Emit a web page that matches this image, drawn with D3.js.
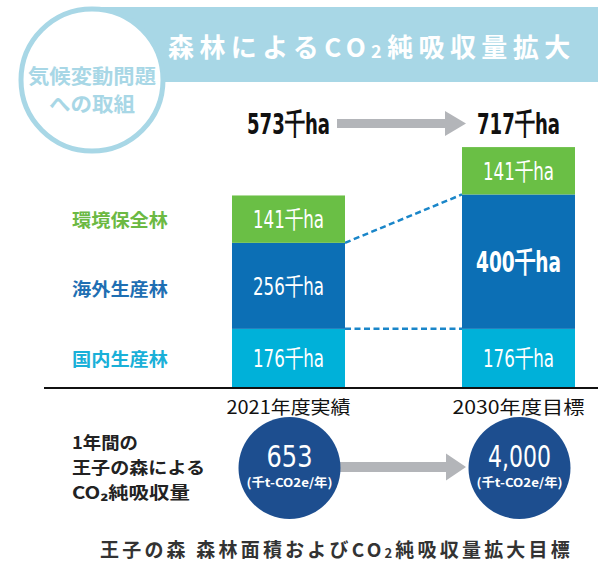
<!DOCTYPE html>
<html><head><meta charset="utf-8">
<script src="https://cdn.jsdelivr.net/npm/d3@7"></script>
<style>body{margin:0;background:#fff}svg{display:block}</style>
</head><body>
<svg id="c" width="598" height="562"></svg>
<script>
const categories = ["2021年度実績", "2030年度目標"];
const seriesNames = ["国内生産林", "海外生産林", "環境保全林"];
const domestic = [176, 176];
const overseas = [256, 400];
const environmental = [141, 141];
const totals = [573, 717];
const co2Values = ["653", "4,000"];
const co2Unit = "(千t-CO2e/年)";
const unit = "千ha";

const colors = {"国内生産林": "#00b1d9", "海外生産林": "#0c6fb5", "環境保全林": "#6abf45"};
const labelColors = {"国内生産林": "#1ab0d8", "海外生産林": "#1f6fb3", "環境保全林": "#6cb943"};
const JP = "'Noto Sans CJK JP', 'Noto Sans', sans-serif";
const COND = "'Liberation Sans Narrow', 'DejaVu Sans Condensed', 'Roboto', sans-serif";

const svg = d3.select("#c");

// ---- header
const band = "#a8d7e6";
svg.append("rect").attr("x", 92).attr("y", 7).attr("width", 506).attr("height", 75).attr("fill", band);
svg.append("circle").attr("cx", 92).attr("cy", 80).attr("r", 71).attr("fill", "#fff")
  .attr("stroke", band).attr("stroke-width", 5);
svg.append("text").attr("x", 92).attr("y", 75).attr("text-anchor", "middle").attr("dominant-baseline", "central")
  .attr("font-family", JP).attr("font-weight", 700).attr("font-size", 20).attr("fill", band)
  .attr("textLength", 128).attr("lengthAdjust", "spacingAndGlyphs").text("気候変動問題");
svg.append("text").attr("x", 92).attr("y", 103).attr("text-anchor", "middle").attr("dominant-baseline", "central")
  .attr("font-family", JP).attr("font-weight", 700).attr("font-size", 20).attr("fill", band)
  .attr("textLength", 86).attr("lengthAdjust", "spacingAndGlyphs").text("への取組");

const title = svg.append("text").attr("x", 168).attr("y", 45).attr("dominant-baseline", "central")
  .attr("font-family", JP).attr("font-weight", 700).attr("font-size", 26).attr("fill", "#fff")
  .attr("letter-spacing", 5.4);
title.append("tspan").text("森林によるCO");
title.append("tspan").attr("font-size", 18).attr("dy", 5).text("2");
title.append("tspan").attr("dy", -5).text("純吸収量拡大");

// ---- scales
const x = d3.scaleBand().domain(categories).range([232, 575]).paddingInner(0.5087).paddingOuter(0);
const y = d3.scaleLinear().domain([0, 717]).range([388, 388 - 717 * 0.336]);

const rows = categories.map((c, i) => ({cat: c, "国内生産林": domestic[i], "海外生産林": overseas[i], "環境保全林": environmental[i]}));
const stack = d3.stack().keys(seriesNames)(rows);

// dashed connectors
const dash = "#1a86c9";
const conn = [
  [x(categories[0]) + x.bandwidth(), y(stack[0][0][1]), x(categories[1]), y(stack[0][1][1])],
  [x(categories[0]) + x.bandwidth(), y(stack[1][0][1]), x(categories[1]), y(stack[1][1][1])]
];
svg.selectAll("line.conn").data(conn).join("line").attr("class", "conn")
  .attr("x1", d => d[0]).attr("y1", d => d[1]).attr("x2", d => d[2]).attr("y2", d => d[3])
  .attr("stroke", dash).attr("stroke-width", 2.5).attr("stroke-dasharray", "6,3.5");

// bars
stack.forEach(s => {
  svg.selectAll(null).data(s).join("rect")
    .attr("x", d => x(d.data.cat)).attr("width", x.bandwidth())
    .attr("y", d => y(d[1])).attr("height", d => y(d[0]) - y(d[1]))
    .attr("fill", colors[s.key]);
  svg.selectAll(null).data(s).join("text")
    .attr("x", d => x(d.data.cat) + x.bandwidth() / 2)
    .attr("y", d => (y(d[0]) + y(d[1])) / 2 + 1)
    .attr("text-anchor", "middle").attr("dominant-baseline", "central")
    .attr("font-family", COND).attr("fill", "#fff")
    .attr("font-weight", d => (d[1] - d[0]) >= 400 ? 700 : 400)
    .attr("font-size", d => (d[1] - d[0]) >= 400 ? 28 : 24)
    .attr("textLength", d => (d[1] - d[0]) >= 400 ? 85 : 71)
    .attr("lengthAdjust", "spacingAndGlyphs")
    .text(d => (d[1] - d[0]) + unit);
});

// baseline
svg.append("line").attr("x1", 44).attr("x2", 598).attr("y1", 388).attr("y2", 388)
  .attr("stroke", "#111").attr("stroke-width", 2);

// series labels on left
const labelY = {"環境保全林": 219, "海外生産林": 288, "国内生産林": 358};
svg.selectAll("text.cat").data(seriesNames).join("text").attr("class", "cat")
  .attr("x", 120).attr("y", d => labelY[d]).attr("text-anchor", "middle").attr("dominant-baseline", "central")
  .attr("font-family", JP).attr("font-weight", 700).attr("font-size", 18)
  .attr("fill", d => labelColors[d]).attr("textLength", 96).attr("lengthAdjust", "spacingAndGlyphs")
  .text(d => d);

// arrow helper
function arrow(x0, x1, cy, shaftH, headH, headL) {
  const p = d3.path();
  p.moveTo(x0, cy - shaftH / 2); p.lineTo(x1 - headL, cy - shaftH / 2); p.lineTo(x1 - headL, cy - headH / 2);
  p.lineTo(x1, cy); p.lineTo(x1 - headL, cy + headH / 2); p.lineTo(x1 - headL, cy + shaftH / 2);
  p.lineTo(x0, cy + shaftH / 2); p.closePath();
  svg.append("path").attr("d", p.toString()).attr("fill", "#b3b5b9");
}

// totals
arrow(337, 466, 123.5, 9, 25, 21);
svg.selectAll("text.tot").data(totals).join("text").attr("class", "tot")
  .attr("x", (d, i) => x(categories[i]) + x.bandwidth() / 2).attr("y", 124)
  .attr("text-anchor", "middle").attr("dominant-baseline", "central")
  .attr("font-family", COND).attr("font-weight", 700).attr("font-size", 29).attr("fill", "#111")
  .attr("textLength", 83).attr("lengthAdjust", "spacingAndGlyphs")
  .text(d => d + unit);

// category labels under axis
svg.selectAll("text.year").data(categories).join("text").attr("class", "year")
  .attr("x", d => x(d) + x.bandwidth() / 2).attr("y", 406)
  .attr("text-anchor", "middle").attr("dominant-baseline", "central")
  .attr("font-family", JP).attr("font-weight", 400).attr("font-size", 18).attr("fill", "#111")
  .attr("textLength", (d, i) => i === 0 ? 124 : 132).attr("lengthAdjust", "spacingAndGlyphs")
  .text(d => d);

// CO2 circles
arrow(330, 466, 467, 10, 27, 20);
const navy = "#1d4e8f";
const cxs = categories.map(c => x(c) + x.bandwidth() / 2 + 1);
svg.selectAll("circle.co2").data(co2Values).join("circle").attr("class", "co2")
  .attr("cx", (d, i) => cxs[i]).attr("cy", 468).attr("r", 51).attr("fill", navy);
svg.selectAll("text.co2v").data(co2Values).join("text").attr("class", "co2v")
  .attr("x", (d, i) => cxs[i]).attr("y", 456)
  .attr("text-anchor", "middle").attr("dominant-baseline", "central")
  .attr("font-family", COND).attr("font-size", 30).attr("fill", "#fff")
  .attr("textLength", (d, i) => i === 0 ? 46 : 63).attr("lengthAdjust", "spacingAndGlyphs")
  .text(d => d);
svg.selectAll("text.co2u").data(co2Values).join("text").attr("class", "co2u")
  .attr("x", (d, i) => cxs[i]).attr("y", 481)
  .attr("text-anchor", "middle").attr("dominant-baseline", "central")
  .attr("font-family", JP).attr("font-weight", 700).attr("font-size", 12).attr("fill", "#fff")
  .attr("textLength", 86).attr("lengthAdjust", "spacingAndGlyphs")
  .text(co2Unit);

// left description
const desc = [["1年間の", 441, 66], ["王子の森による", 466, 133], ["CO₂純吸収量", 491, 118]];
svg.selectAll("text.desc").data(desc).join("text").attr("class", "desc")
  .attr("x", 72).attr("y", d => d[1]).attr("dominant-baseline", "central")
  .attr("font-family", JP).attr("font-weight", 700).attr("font-size", 17).attr("fill", "#222")
  .attr("textLength", d => d[2]).attr("lengthAdjust", "spacingAndGlyphs")
  .text(d => d[0]);

// caption
const cap = svg.append("text").attr("x", 100).attr("y", 548).attr("dominant-baseline", "central")
  .attr("font-family", JP).attr("font-weight", 700).attr("font-size", 19).attr("fill", "#333")
  .attr("letter-spacing", 3.2);
cap.append("tspan").text("王子の森 森林面積およびCO");
cap.append("tspan").attr("font-size", 13).attr("dy", 4).text("2");
cap.append("tspan").attr("dy", -4).text("純吸収量拡大目標");
</script>
</body></html>
